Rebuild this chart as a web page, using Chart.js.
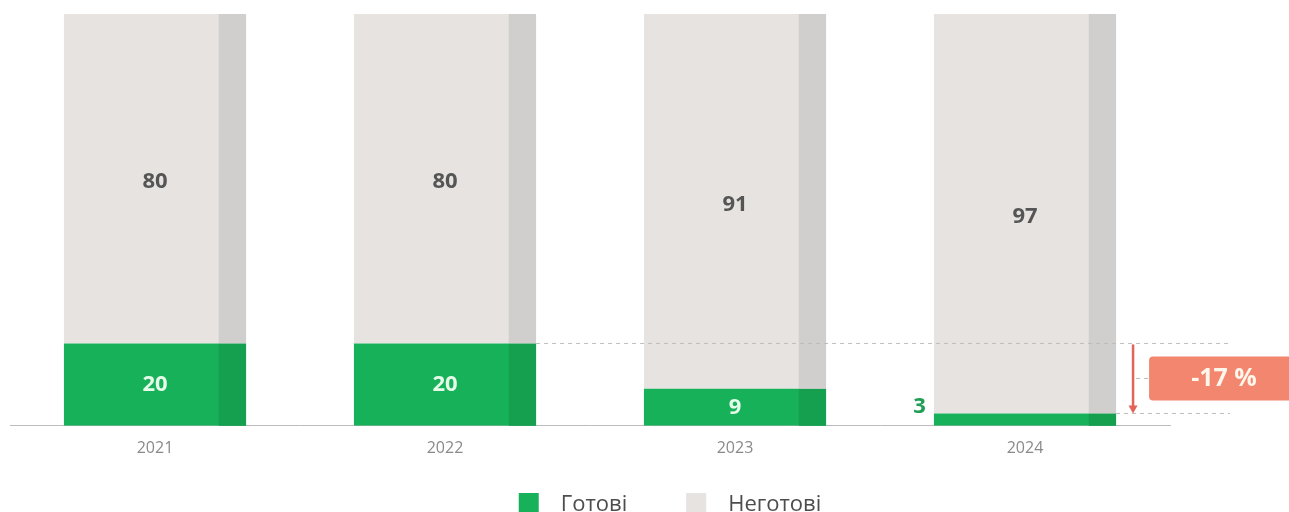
<!DOCTYPE html>
<html>
<head>
<meta charset="utf-8">
<script src="https://cdn.jsdelivr.net/npm/chart.js@4"></script>
<style>
  html, body { margin: 0; padding: 0; background: #fff; }
  #wrap { width: 1289px; height: 512px; position: relative; }
</style>
</head>
<body>
<div id="wrap"><canvas id="c"></canvas></div>
<script>
// data
var years = ['2021', '2022', '2023', '2024'];
var ready = [20, 20, 9, 3];
var notReady = [80, 80, 91, 97];
var seriesNames = ['Готові', 'Неготові'];
var changeLabel = '-17 %';

var GREEN = '#17b15a', GREEN_DARK = '#14a04f';
var GREY = '#e6e3e0', GREY_DARK = '#d0cfce';
var FONT = "'Open Sans', 'DejaVu Sans', sans-serif";

// darker strip on the right of every bar, gives the flat "3d" look
var sideStrip = {
  id: 'sideStrip',
  afterDatasetsDraw: function (chart) {
    var ctx = chart.ctx;
    chart.data.datasets.forEach(function (ds, di) {
      chart.getDatasetMeta(di).data.forEach(function (bar) {
        var w = bar.width * 0.15;
        var top = Math.min(bar.y, bar.base), h = Math.abs(bar.base - bar.y);
        ctx.fillStyle = ds.stripColor;
        ctx.fillRect(bar.x + bar.width / 2 - w, top, w, h);
      });
    });
  }
};

var valueLabels = {
  id: 'valueLabels',
  afterDatasetsDraw: function (chart) {
    var ctx = chart.ctx;
    ctx.save();
    ctx.font = 'bold 22px ' + FONT;
    ctx.textBaseline = 'middle';
    chart.data.datasets.forEach(function (ds, di) {
      chart.getDatasetMeta(di).data.forEach(function (bar, i) {
        var h = Math.abs(bar.base - bar.y);
        if (h < 20) {
          // too thin, put the number left of the bar
          ctx.textAlign = 'right';
          ctx.fillStyle = '#1f9e55';
          ctx.fillText(ds.data[i], bar.x - bar.width / 2 - 8, bar.y - 7);
        } else {
          ctx.textAlign = 'center';
          ctx.fillStyle = ds.labelColor;
          ctx.fillText(ds.data[i], bar.x, (bar.y + bar.base) / 2 + (ds.labelShift || 0));
        }
      });
    });
    ctx.restore();
  }
};

// dashed guides, arrow and the change badge on the right
var changeNote = {
  id: 'changeNote',
  afterDatasetsDraw: function (chart) {
    var ctx = chart.ctx, y = chart.scales.y;
    var bars = chart.getDatasetMeta(0).data;
    var yHi = y.getPixelForValue(ready[1]);
    var yLo = y.getPixelForValue(ready[3]);
    var endX = chart.width - 59;
    ctx.save();
    ctx.strokeStyle = '#bdbdbd';
    ctx.lineWidth = 1;
    ctx.setLineDash([4, 4]);
    ctx.beginPath();
    ctx.moveTo(bars[1].x + bars[1].width / 2, yHi);
    ctx.lineTo(endX, yHi);
    ctx.moveTo(bars[3].x + bars[3].width / 2, yLo);
    ctx.lineTo(endX, yLo);
    var ax = bars[3].x + bars[3].width / 2 + 17;
    var mid = (yHi + yLo) / 2;
    ctx.moveTo(ax + 3, mid);
    ctx.lineTo(ax + 16, mid);
    ctx.stroke();
    ctx.setLineDash([]);
    // arrow
    ctx.strokeStyle = '#e26357';
    ctx.fillStyle = '#e26357';
    ctx.lineWidth = 2.5;
    ctx.beginPath();
    ctx.moveTo(ax, yHi + 1);
    ctx.lineTo(ax, yLo - 4);
    ctx.stroke();
    ctx.beginPath();
    ctx.moveTo(ax - 4.5, yLo - 8);
    ctx.lineTo(ax + 4.5, yLo - 8);
    ctx.lineTo(ax, yLo);
    ctx.closePath();
    ctx.fill();
    // badge
    var bx = ax + 16, bw = 150, bh = 44;
    ctx.fillStyle = '#f2866f';
    ctx.beginPath();
    ctx.roundRect(bx, mid - bh / 2, bw, bh, 4);
    ctx.fill();
    ctx.fillStyle = '#fff6ec';
    ctx.font = 'bold 25px ' + FONT;
    ctx.textAlign = 'center';
    ctx.textBaseline = 'middle';
    ctx.fillText(changeLabel, bx + 75, mid);
    ctx.restore();
  }
};

// legend drawn by hand: the built-in one can't get this wide spacing
// without also getting very tall
var bottomLegend = {
  id: 'bottomLegend',
  afterDraw: function (chart) {
    var ctx = chart.ctx, box = 20, gap = 22, itemGap = 59;
    ctx.save();
    ctx.font = '22px ' + FONT;
    var widths = chart.data.datasets.map(function (ds) { return ctx.measureText(ds.label).width; });
    var total = widths.reduce(function (a, w) { return a + box + gap + w; }, 0) + itemGap * (widths.length - 1);
    var x = (chart.chartArea.left + chart.chartArea.right) / 2 + 80 - total / 2;
    var top = 493;
    ctx.textBaseline = 'alphabetic';
    ctx.textAlign = 'left';
    chart.data.datasets.forEach(function (ds, i) {
      ctx.fillStyle = ds.backgroundColor;
      ctx.fillRect(x, top, box, box);
      ctx.fillStyle = '#4d4d4d';
      ctx.fillText(ds.label, x + box + gap, top + 18);
      x += box + gap + widths[i] + itemGap;
    });
    ctx.restore();
  }
};

new Chart(document.getElementById('c'), {
  type: 'bar',
  data: {
    labels: years,
    datasets: [
      { label: seriesNames[0], data: ready, backgroundColor: GREEN, stripColor: GREEN_DARK, labelColor: '#e6fbe9' },
      { label: seriesNames[1], data: notReady, backgroundColor: GREY, stripColor: GREY_DARK, labelColor: '#555555', labelShift: 3 }
    ]
  },
  options: {
    responsive: true,
    maintainAspectRatio: false,
    animation: false,
    layout: { padding: { left: 10, right: 119, top: 14, bottom: 41 } },
    datasets: { bar: { categoryPercentage: 0.628, barPercentage: 1, borderWidth: 0 } },
    scales: {
      x: {
        stacked: true,
        grid: { display: false, drawTicks: false },
        border: { color: '#bcbcbc', width: 1 },
        ticks: { color: '#8a8a8a', font: { family: FONT, size: 16 }, padding: 13 }
      },
      y: { stacked: true, display: false, min: 0, max: 100 }
    },
    plugins: {
      legend: { display: false },
      tooltip: { enabled: false }
    }
  },
  plugins: [sideStrip, valueLabels, changeNote, bottomLegend]
});
</script>
</body>
</html>
